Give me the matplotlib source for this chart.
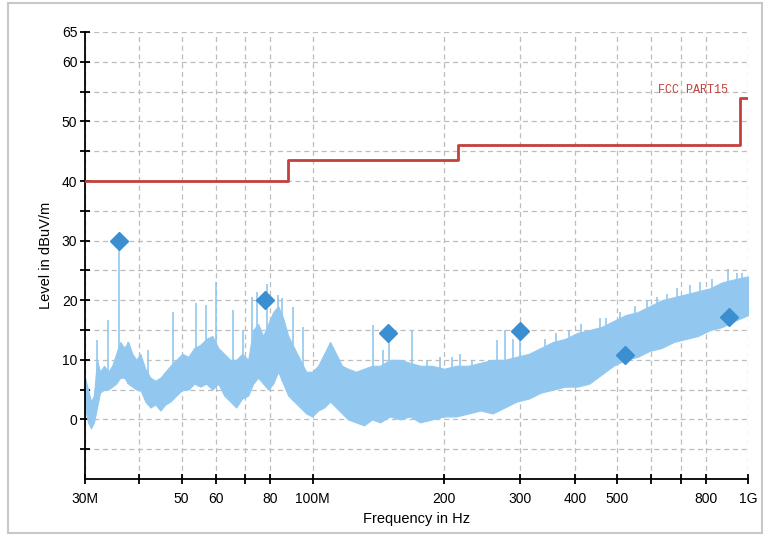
import numpy as np
import matplotlib.pyplot as plt
from matplotlib.patches import Rectangle

plt.rcParams['font.family'] = ['Liberation Sans', 'DejaVu Sans']

# envelope of the measured trace (MHz, dBuV/m)
env_freq = [30.0, 30.48, 30.96, 31.45, 31.96, 32.48, 33.18, 33.9, 34.63, 35.37,
            36.14, 36.91, 37.71, 38.52, 39.35, 40.19, 41.27, 42.39, 43.52, 44.69,
            45.89, 47.12, 48.63, 50.19, 51.81, 53.48, 55.19, 56.97, 58.8, 60.69,
            62.64, 64.65, 66.74, 68.88, 71.1, 73.0, 74.96, 76.97, 79.03, 81.15,
            83.33, 85.56, 87.86, 90.69, 93.61, 96.62, 99.73, 102.94, 106.25,
            109.66, 113.19, 116.83, 120.59, 125.8, 131.2, 136.9, 142.8, 150.6,
            158.7, 167.3, 176.5, 188.1, 200.5, 213.8, 227.9, 243.0, 259.0, 276.1,
            294.3, 313.7, 334.5, 356.5, 380.1, 405.2, 431.9, 460.4, 490.8, 523.2,
            557.7, 594.5, 633.7, 675.6, 720.2, 767.7, 818.4, 872.4, 930.0, 1000.0]
env_low = [2.0, -0.5, -1.5, -0.5, 2.0, 4.5, 5.0, 5.0, 5.5, 6.0,
           7.0, 7.0, 6.0, 5.5, 5.0, 5.0, 3.0, 2.0, 2.5, 1.5,
           2.5, 3.0, 4.0, 5.0, 5.0, 6.0, 5.5, 6.0, 5.0, 6.0,
           4.0, 3.0, 2.0, 3.5, 4.0, 6.0, 7.0, 6.0, 5.0, 6.0,
           8.0, 6.0, 4.0, 3.0, 2.0, 1.0, 0.5, 1.5, 2.0,
           3.0, 2.0, 1.0, 0.0, -0.5, -1.0, 0.0, -0.5, 0.5,
           0.0, 0.5, -0.5, 0.0, 0.5, 0.5, 1.0, 1.5, 1.0, 2.0,
           3.0, 3.5, 4.5, 5.0, 5.5, 5.5, 6.0, 7.5, 9.0, 10.0,
           10.5, 11.5, 12.0, 13.0, 13.5, 14.0, 15.0, 15.5, 16.5, 17.5]
env_high = [7.0, 5.0, 3.0, 4.0, 10.0, 8.0, 9.0, 8.0, 9.0, 11.0,
            13.0, 12.0, 13.0, 11.0, 10.0, 11.0, 8.5, 7.0, 6.5, 7.0,
            8.0, 9.0, 10.0, 11.0, 10.5, 12.0, 12.5, 13.5, 14.0, 12.0,
            11.0, 10.0, 10.0, 11.0, 10.0, 15.0, 16.0, 14.0, 16.0, 18.0,
            19.0, 17.0, 14.0, 12.0, 10.0, 8.0, 8.0, 9.0, 11.0,
            13.0, 11.0, 9.0, 8.5, 8.0, 8.5, 9.0, 9.0, 10.0,
            10.0, 9.5, 9.0, 9.0, 8.5, 9.0, 9.0, 9.5, 10.0, 10.0,
            10.5, 11.0, 12.0, 13.0, 13.5, 14.5, 15.0, 15.5, 16.5, 17.5,
            18.0, 19.0, 20.0, 20.5, 21.0, 21.5, 22.0, 23.0, 23.5, 24.0]

# narrow peaks standing out of the trace
spike_freq = [32.0, 33.9, 36.0, 37.7, 41.9, 47.8, 53.9, 56.9, 60.0, 65.6, 69.2,
              72.5, 74.5, 78.5, 83.3, 85.1, 90.2, 95.0, 137.6, 145.0, 149.7,
              169.0, 183.0, 196.3, 209.3, 218.5, 232.0, 265.0, 276.5, 288.5,
              299.4, 341.8, 362.0, 388.5, 413.9, 457.0, 472.8, 506.9, 550.0,
              585.1, 617.0, 650.6, 687.0, 736.3, 776.1, 826.2, 899.0, 943.0,
              967.9]
spike_top = [13.3, 16.7, 29.5, 13.0, 11.7, 18.0, 19.5, 19.2, 23.0, 18.3, 15.0,
             20.5, 21.3, 22.8, 20.8, 20.3, 18.8, 15.5, 15.8, 11.7, 14.3,
             15.0, 10.0, 10.5, 10.5, 11.0, 10.0, 13.3, 15.0, 13.5,
             14.5, 13.5, 14.5, 15.0, 16.0, 17.0, 17.0, 18.0, 19.0,
             20.0, 20.5, 21.0, 22.0, 22.5, 23.0, 23.5, 25.3, 24.5,
             24.5]

# final measurement points
mark_freq = [36.0, 77.8, 149.3, 299.5, 522.0, 904.0]
mark_level = [30.0, 20.0, 14.5, 14.8, 10.8, 17.2]

# FCC Part 15 class B limit
limit_freq = [30, 88, 88, 216, 216, 960, 960, 1000]
limit_level = [40, 40, 43.5, 43.5, 46, 46, 54, 54]

xticks = [30, 40, 50, 60, 70, 80, 100, 200, 300, 400, 500, 600, 700, 800, 1000]
xlabels = ['30M', '', '50', '60', '', '80', '100M', '200', '300', '400', '500',
           '', '', '800', '1G']
yticks = [-5, 0, 5, 10, 15, 20, 25, 30, 35, 40, 45, 50, 55, 60, 65]
ylabels = ['', '0', '', '10', '', '20', '', '30', '', '40', '', '50', '', '60', '65']

trace_color = '#92c8f0'
red = '#c2413b'

fig = plt.figure(figsize=(7.66, 5.36), dpi=100)
ax = fig.add_axes([0.111, 0.1063, 0.8655, 0.8340])

ax.fill_between(env_freq, env_low, env_high, color=trace_color, lw=0.8,
                edgecolor=trace_color, zorder=2)
spike_base = np.interp(spike_freq, env_freq, env_low)
ax.vlines(spike_freq, spike_base, spike_top, color=trace_color, lw=1.2, zorder=2)

ax.plot(limit_freq, limit_level, color=red, lw=2.0, zorder=3)
ax.text(899, 55.2, 'FCC PART15', color=red, fontsize=8.5, ha='right', va='center',
        family='Liberation Mono', zorder=4)

ax.plot(mark_freq, mark_level, 'D', color='#3b8fd0', markersize=9.5, zorder=4)

ax.set_xscale('log')
ax.set_xlim(30, 1000)
ax.set_ylim(-10, 65)
ax.set_xticks(xticks)
ax.set_xticklabels(xlabels)
ax.xaxis.set_minor_locator(plt.NullLocator())
ax.set_yticks(yticks)
ax.set_yticklabels(ylabels)

ax.grid(True, color='#bdbdbd', linestyle=(0, (4, 3)), lw=0.9)
ax.set_axisbelow(True)
for s in ['top', 'right']:
    ax.spines[s].set_visible(False)
for s in ['left', 'bottom']:
    ax.spines[s].set_linewidth(1.3)
ax.tick_params(axis='both', direction='inout', length=7, width=1.3, labelsize=10)
ax.tick_params(axis='x', pad=6)
ax.tick_params(axis='y', pad=2)

ax.set_xlabel('Frequency in Hz', fontsize=10.5, labelpad=4)
ax.set_ylabel('Level in dBuV/m', fontsize=10.5, labelpad=6)

fig.patches.append(Rectangle((0.011, 0.005), 0.984, 0.99, transform=fig.transFigure,
                             fill=False, edgecolor='#c8c8c8', lw=1.5))

fig.savefig('out.png', dpi=100)
